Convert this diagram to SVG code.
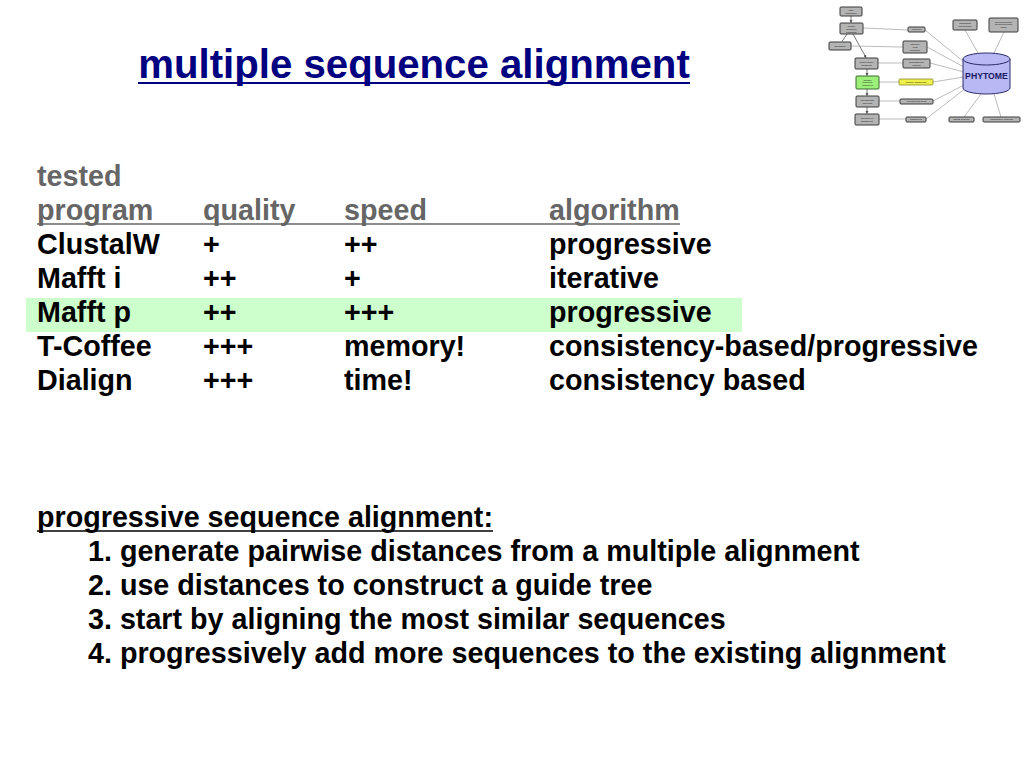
<svg xmlns="http://www.w3.org/2000/svg" width="1024" height="768" viewBox="0 0 1024 768">
<defs>
<style>
.t{font-family:"Liberation Sans",Arial,sans-serif;font-weight:bold;font-size:28.7px;fill:#000}
.h{fill:#666}
.title{font-family:"Liberation Sans",Arial,sans-serif;font-weight:bold;font-size:40.2px;fill:#000080}
.bx{fill:#b4b4b4;stroke:#3a3a3a;stroke-width:1}
.lb{font-family:"Liberation Sans",Arial,sans-serif;font-size:2.4px;fill:#111;text-anchor:middle}
.cn{stroke:#555;stroke-width:0.8;fill:none}
.cg{stroke:#aaa;stroke-width:0.8;fill:none}
</style>
<marker id="ar" viewBox="0 0 6 6" refX="5" refY="3" markerWidth="4" markerHeight="4" orient="auto"><path d="M0,0L6,3L0,6z" fill="#555"/></marker>
</defs>
<rect width="1024" height="768" fill="#fff"/>

<g id="title">
<text class="title" x="414" y="77.5" text-anchor="middle">multiple sequence alignment</text>
<line x1="138" y1="83" x2="690" y2="83" stroke="#000080" stroke-width="2.2"/>
</g>

<rect id="highlight" x="26" y="298" width="716" height="34" fill="#ccffcc"/>

<g id="table">
<text class="t h" x="37" y="186">tested</text>
<text class="t h" x="37" y="220">program</text>
<text class="t h" x="203" y="220">quality</text>
<text class="t h" x="344" y="220">speed</text>
<text class="t h" x="549" y="220">algorithm</text>
<line x1="37" y1="224" x2="680" y2="224" stroke="#666" stroke-width="1.6"/>

<text class="t" x="37" y="254">ClustalW</text>
<text class="t" x="203" y="254">+</text>
<text class="t" x="344" y="254">++</text>
<text class="t" x="549" y="254">progressive</text>

<text class="t" x="37" y="288">Mafft i</text>
<text class="t" x="203" y="288">++</text>
<text class="t" x="344" y="288">+</text>
<text class="t" x="549" y="288">iterative</text>

<text class="t" x="37" y="322">Mafft p</text>
<text class="t" x="203" y="322">++</text>
<text class="t" x="344" y="322">+++</text>
<text class="t" x="549" y="322">progressive</text>

<text class="t" x="37" y="356">T-Coffee</text>
<text class="t" x="203" y="356">+++</text>
<text class="t" x="344" y="356">memory!</text>
<text class="t" x="549" y="356">consistency-based/progressive</text>

<text class="t" x="37" y="390">Dialign</text>
<text class="t" x="203" y="390">+++</text>
<text class="t" x="344" y="390">time!</text>
<text class="t" x="549" y="390">consistency based</text>
</g>

<g id="steps">
<text class="t" x="37" y="527">progressive sequence alignment:</text>
<line x1="37" y1="531" x2="493" y2="531" stroke="#000" stroke-width="1.6"/>
<text class="t" x="88" y="561">1. generate pairwise distances from a multiple alignment</text>
<text class="t" x="88" y="595">2. use distances to construct a guide tree</text>
<text class="t" x="88" y="629">3. start by aligning the most similar sequences</text>
<text class="t" x="88" y="663">4. progressively add more sequences to the existing alignment</text>
</g>

<g id="thumb">
<g id="connectors">
<line class="cn" x1="851" y1="16" x2="851" y2="22.5" marker-end="url(#ar)"/>
<line class="cn" x1="847" y1="34" x2="842" y2="41.5"/>
<line class="cn" x1="853" y1="34" x2="866" y2="57.5" marker-end="url(#ar)"/>
<line class="cg" x1="863" y1="28" x2="908" y2="30"/>
<line class="cg" x1="851" y1="46" x2="903" y2="47"/>
<line class="cg" x1="878" y1="63" x2="903" y2="63"/>
<line class="cn" x1="867" y1="69" x2="867" y2="75.5" marker-end="url(#ar)"/>
<line class="cg" x1="879" y1="82" x2="899" y2="82"/>
<line class="cn" x1="867" y1="89" x2="867" y2="95.5" marker-end="url(#ar)"/>
<line class="cg" x1="879" y1="101" x2="900" y2="101"/>
<line class="cn" x1="867" y1="107" x2="867" y2="113.5" marker-end="url(#ar)"/>
<line class="cg" x1="879" y1="119" x2="906" y2="119"/>
<line class="cg" x1="925" y1="30" x2="964" y2="62"/>
<line class="cg" x1="927" y1="47" x2="964" y2="67"/>
<line class="cg" x1="930" y1="63" x2="964" y2="72"/>
<line class="cg" x1="933" y1="82" x2="964" y2="77"/>
<line class="cg" x1="933" y1="101" x2="964" y2="85"/>
<line class="cg" x1="926" y1="119" x2="966" y2="88"/>
<line class="cg" x1="965" y1="30" x2="978" y2="53"/>
<line class="cg" x1="1004" y1="32" x2="994" y2="53"/>
<line class="cg" x1="981" y1="94" x2="964" y2="117"/>
<line class="cg" x1="994" y1="94" x2="1001" y2="117"/>
</g>
<g id="n-data"><rect class="bx" x="840" y="7" width="22" height="9" rx="1"/><text class="lb" x="851" y="11">data</text><text class="lb" x="851" y="14">acquisition</text></g>
<g id="n-pred"><rect class="bx" x="840" y="23" width="23" height="11" rx="1"/><text class="lb" x="851.5" y="27">protein</text><text class="lb" x="851.5" y="29.8">sequence</text><text class="lb" x="851.5" y="32.6">prediction</text></g>
<g id="n-annot"><rect class="bx" x="829" y="42" width="22" height="8" rx="1"/><text class="lb" x="840" y="46.8">annotation</text></g>
<g id="n-clust"><rect class="bx" x="855" y="58" width="23" height="11" rx="1"/><text class="lb" x="866.5" y="62.5">protein family</text><text class="lb" x="866.5" y="65.5">clustering</text></g>
<g id="n-msa"><rect x="856" y="76" width="23" height="13" rx="1" fill="#9cf07a" stroke="#3a6a2a" stroke-width="1"/><text class="lb" x="867.5" y="80.5">multiple</text><text class="lb" x="867.5" y="83.3">sequence</text><text class="lb" x="867.5" y="86.1">alignment</text></g>
<g id="n-phylo"><rect class="bx" x="856" y="96" width="23" height="11" rx="1"/><text class="lb" x="867.5" y="100.5">phylogenetic</text><text class="lb" x="867.5" y="103.5">inference</text></g>
<g id="n-sel"><rect class="bx" x="855" y="114" width="24" height="11" rx="1"/><text class="lb" x="867" y="118.5">selection of</text><text class="lb" x="867" y="121.5">subfamilies</text></g>
<g id="o-uni"><rect class="bx" x="908" y="27" width="17" height="5" rx="1"/><text class="lb" x="916.5" y="30.4">unigenes</text></g>
<g id="o-ipr"><rect class="bx" x="903" y="41" width="24" height="12" rx="1"/><text class="lb" x="915" y="45">InterPro/</text><text class="lb" x="915" y="47.8">TMS</text><text class="lb" x="915" y="50.6">prediction</text></g>
<g id="o-sf"><rect class="bx" x="903" y="59" width="27" height="9" rx="1"/><text class="lb" x="916.5" y="62.8">superfamilies/</text><text class="lb" x="916.5" y="65.6">families</text></g>
<g id="o-ma"><rect x="899" y="79" width="34" height="6" rx="1" fill="#f0f04a" stroke="#8a8a30" stroke-width="0.8"/><text class="lb" x="916" y="82.8">multiple alignments</text></g>
<g id="o-tr"><rect class="bx" x="900" y="99" width="33" height="5" rx="1"/><text class="lb" x="916.5" y="102.4">phylogenetic trees</text></g>
<g id="o-sub"><rect class="bx" x="906" y="117" width="20" height="5" rx="1"/><text class="lb" x="916" y="120.4">subfamilies</text></g>
<g id="o-org"><rect class="bx" x="953" y="20" width="24" height="10" rx="1"/><text class="lb" x="965" y="24.3">organismal</text><text class="lb" x="965" y="27.1">phylogenies</text></g>
<g id="o-maps"><rect class="bx" x="989" y="18" width="29" height="14" rx="1"/><text class="lb" x="1003.5" y="22.5">species-specific</text><text class="lb" x="1003.5" y="25.3">genetic/physical</text><text class="lb" x="1003.5" y="28.1">maps</text></g>
<g id="o-dnds"><rect class="bx" x="949" y="117" width="25" height="5" rx="1"/><text class="lb" x="961.5" y="120.4">dN/dS analysis</text></g>
<g id="o-comp"><rect class="bx" x="983" y="117" width="37" height="5" rx="1"/><text class="lb" x="1001.5" y="120.4">comparative mapping</text></g>
<g id="db">
<path d="M963,59 L963,88 A23.5,6 0 0 0 1010,88 L1010,59" fill="#b8b8f4" stroke="#2a2a6a" stroke-width="1"/>
<ellipse cx="986.5" cy="59" rx="23.5" ry="6" fill="#b8b8f4" stroke="#2a2a6a" stroke-width="1"/>
<text x="986.5" y="79" text-anchor="middle" font-family="Liberation Sans,Arial,sans-serif" font-weight="bold" font-size="8.7" fill="#1a1a66">PHYTOME</text>
</g>
</g>
</svg>
